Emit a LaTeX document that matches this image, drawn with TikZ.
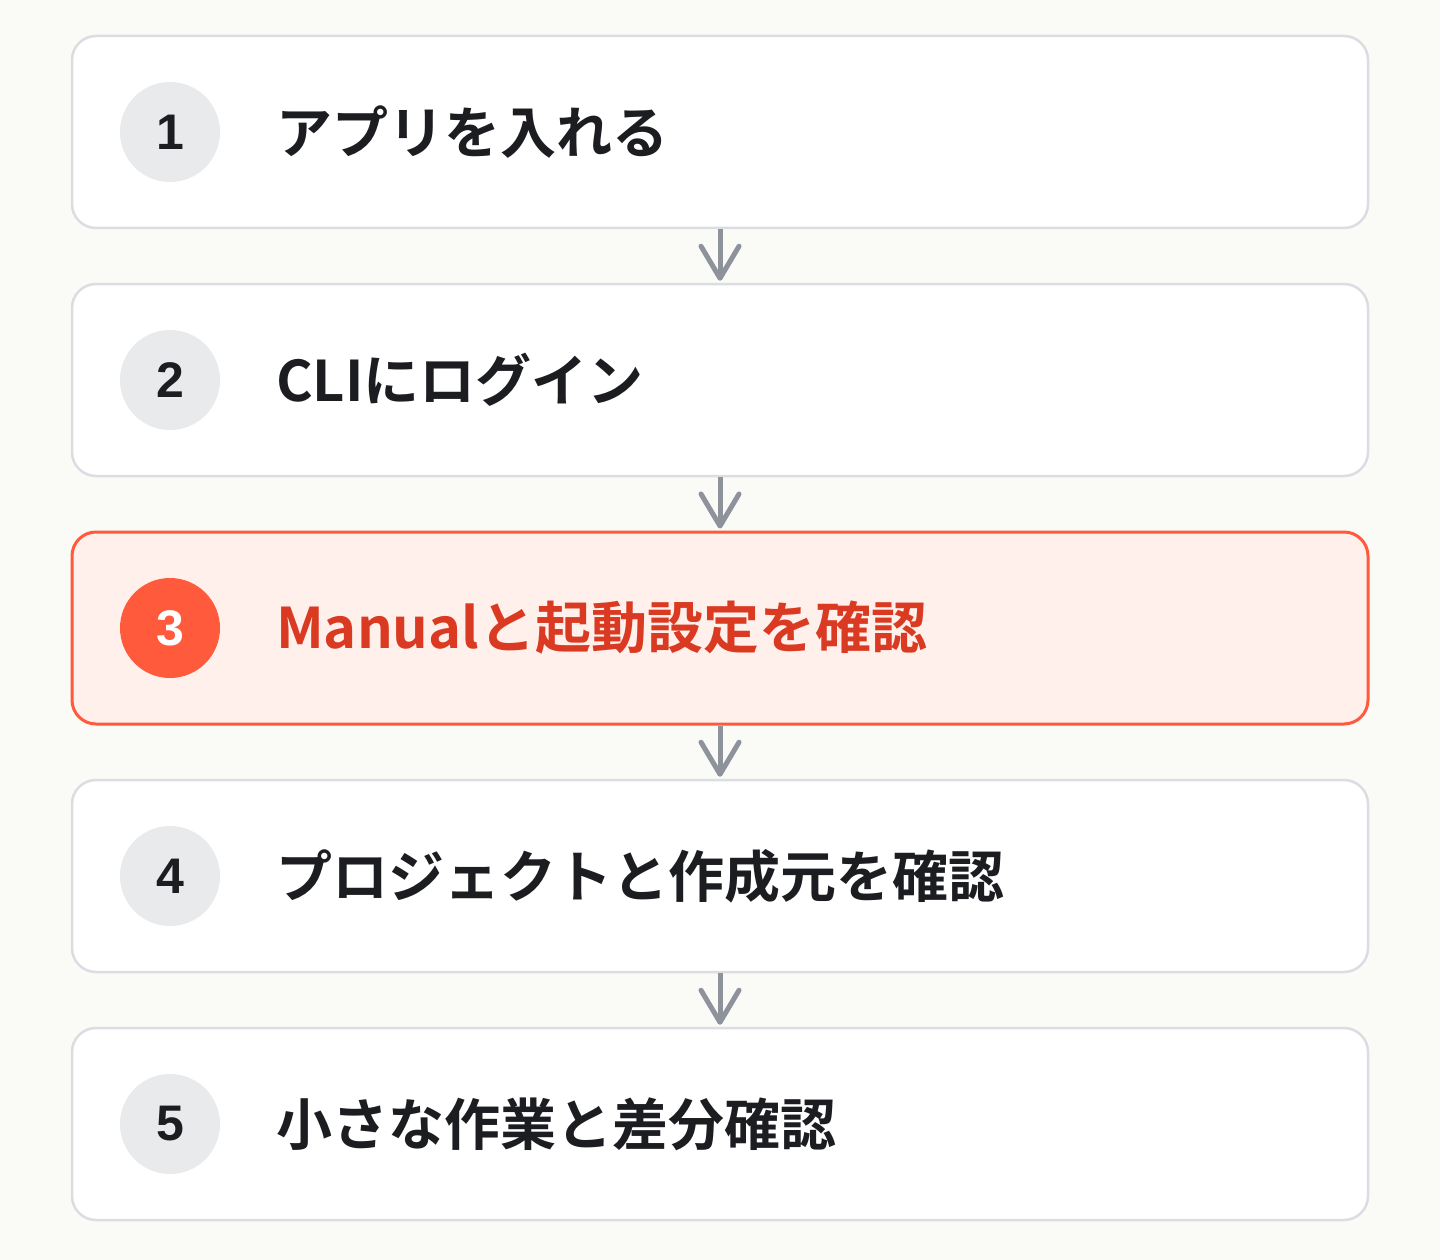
\documentclass[tikz,border=0pt]{standalone}
\usepackage{fontspec}
\usetikzlibrary{arrows.meta}
\newfontfamily\jpfont{Noto Sans CJK JP}[BoldFont=* Bold]
\newfontfamily\numfont{Liberation Sans}
\definecolor{bgc}{HTML}{FAFAF6}
\definecolor{boxline}{HTML}{DCDDE2}
\definecolor{circg}{HTML}{E9EAEC}
\definecolor{txtc}{HTML}{1C1D21}
\definecolor{accent}{HTML}{FF5A3C}
\definecolor{accfill}{HTML}{FFF0EC}
\definecolor{acctext}{HTML}{DA3A22}
\definecolor{arrowc}{HTML}{8E939B}
\tikzset{
  stepbox/.style={draw=boxline, line width=2.5pt, fill=white, rounded corners=24pt,
    minimum width=1296pt, minimum height=192pt, inner sep=0pt},
  hotbox/.style={stepbox, draw=accent, line width=3pt, fill=accfill},
  numcirc/.style={circle, fill=circg, minimum size=100pt, inner sep=0pt,
    font=\numfont\bfseries\fontsize{50pt}{50pt}\selectfont, text=txtc},
  hotcirc/.style={numcirc, fill=accent, text=white},
  label/.style={anchor=west, inner sep=0pt, font=\jpfont\bfseries\fontsize{56pt}{60pt}\selectfont, text=txtc},
  flow/.style={draw=arrowc, line width=5pt, shorten >=2pt,
    -{Straight Barb[length=32pt, width=38pt, line width=5pt, round]}},
}
\begin{document}
\begin{tikzpicture}[x=1pt, y=-1pt]
\fill[bgc] (0,0) rectangle (1440,1260);
\useasboundingbox (0,0) rectangle (1440,1260);
\node[stepbox] (b1) at (720,132) {};
\node[stepbox] (b2) at (720,380) {};
\node[hotbox]  (b3) at (720,628) {};
\node[stepbox] (b4) at (720,876) {};
\node[stepbox] (b5) at (720,1124) {};
\node[numcirc] (c1) at (170,132) {1};
\node[numcirc] (c2) at (170,380) {2};
\node[hotcirc] (c3) at (170,628) {3};
\node[numcirc] (c4) at (170,876) {4};
\node[numcirc] (c5) at (170,1124) {5};
\node[label] (t1) at (276,132) {アプリを入れる};
\node[label] (t2) at (276,380) {CLIにログイン};
\node[label, text=acctext] (t3) at (276,628) {Manualと起動設定を確認};
\node[label] (t4) at (276,876) {プロジェクトと作成元を確認};
\node[label] (t5) at (276,1124) {小さな作業と差分確認};
\draw[flow] (b1.south) -- (b2.north);
\draw[flow] (b2.south) -- (b3.north);
\draw[flow] (b3.south) -- (b4.north);
\draw[flow] (b4.south) -- (b5.north);
\end{tikzpicture}
\end{document}
